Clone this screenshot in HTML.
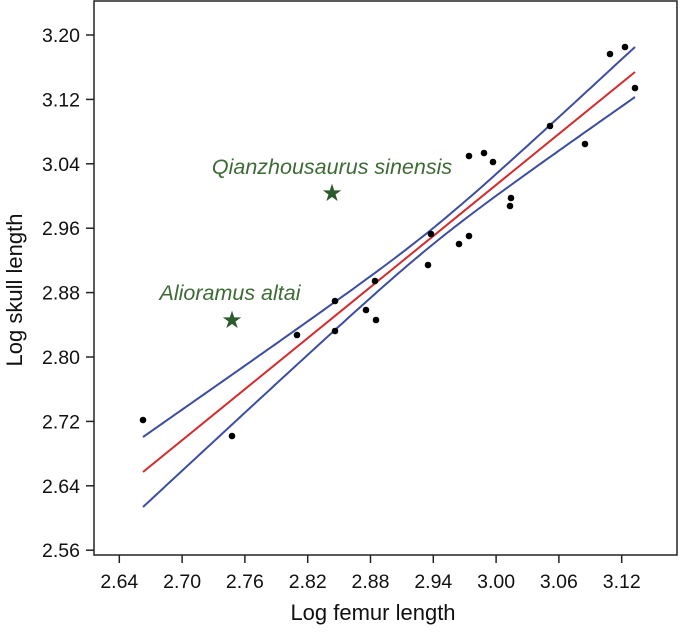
<!DOCTYPE html>
<html><head><style>
body{margin:0;background:#fff;}
text{font-family:"Liberation Sans",Arial,sans-serif;fill:#111;}
</style></head><body>
<svg id="s" width="685" height="627" xmlns="http://www.w3.org/2000/svg">
<rect x="94" y="1" width="583" height="554" fill="none" stroke="#222" stroke-width="1.5"/>
<g id="ticks" stroke="#222" stroke-width="1.5"></g>
<g id="lab" font-size="19.5"></g>
<text x="373" y="620" font-size="22" text-anchor="middle">Log femur length</text>
<text transform="translate(22,290) rotate(-90)" font-size="22" text-anchor="middle">Log skull length</text>
<path id="up" fill="none" stroke="#3b4ea0" stroke-width="2"/>
<path id="lo" fill="none" stroke="#3b4ea0" stroke-width="2"/>
<line x1="143" y1="472" x2="635" y2="72" stroke="#d42a2a" stroke-width="2"/>
<g id="pts" fill="#000"></g>
<text x="332" y="174" font-size="21.5" font-style="italic" text-anchor="middle" style="fill:#3d6b35">Qianzhousaurus sinensis</text>
<text x="230" y="300" font-size="21.5" font-style="italic" text-anchor="middle" style="fill:#3d6b35">Alioramus altai</text>
<text x="332" y="201" font-size="24" text-anchor="middle" style="fill:#2d5a2d">★</text>
<text x="232" y="328" font-size="24" text-anchor="middle" style="fill:#2d5a2d">★</text>
</svg>
<script>
var NS="http://www.w3.org/2000/svg";
function el(t,a,p){var e=document.createElementNS(NS,t);for(var k in a)e.setAttribute(k,a[k]);document.getElementById(p).appendChild(e);return e;}
var ys=["3.20","3.12","3.04","2.96","2.88","2.80","2.72","2.64","2.56"];
for(var i=0;i<9;i++){var y=35+i*64.4;el("line",{x1:86,y1:y,x2:94,y2:y},"ticks");var t=el("text",{x:80,y:y+7,"text-anchor":"end"},"lab");t.textContent=ys[i];}
var xs=["2.64","2.70","2.76","2.82","2.88","2.94","3.00","3.06","3.12"];
for(var i=0;i<9;i++){var x=119.3+i*62.8;el("line",{x1:x,y1:555,x2:x,y2:563},"ticks");var t=el("text",{x:x,y:588,"text-anchor":"middle"},"lab");t.textContent=xs[i];}
var P=[[143,420],[232,436],[297,335],[335,301],[335,331],[366,310],[375,281],[376,320],[428,265],[431,234],[459,244],[469,236],[469,156],[484,153],[493,162],[511,198],[510,206],[550,126],[585,144],[610,54],[625,47],[635,88]];
P.forEach(function(p){el("circle",{cx:p[0],cy:p[1],r:3.3},"pts");});
var u="",l="";
for(var x=143;x<=635;x+=4){var yr=472+(x-143)*(72-472)/492;var h=Math.sqrt(64+0.0138*(x-433)*(x-433));u+=(x==143?"M":"L")+x+" "+(yr-h).toFixed(1);l+=(x==143?"M":"L")+x+" "+(yr+h).toFixed(1);}
document.getElementById("up").setAttribute("d",u);document.getElementById("lo").setAttribute("d",l);
</script>
</body></html>
